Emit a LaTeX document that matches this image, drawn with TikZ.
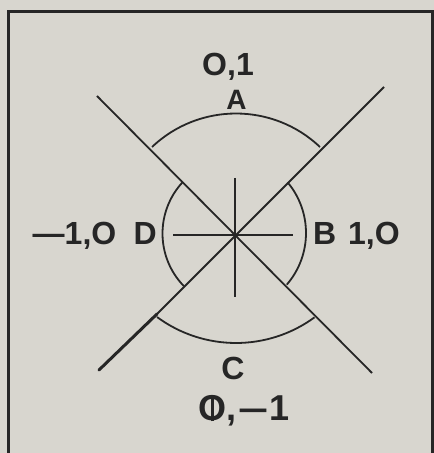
\documentclass[tikz,border=0pt]{standalone}
\usepackage{fontspec}
\setmainfont{Liberation Sans}
\definecolor{inkc}{HTML}{262626}
\definecolor{bgc}{HTML}{D8D6CF}
\newcommand{\barO}{\ooalign{O\cr\hfil\rule[-0.01em]{0.08em}{0.73em}\hfil}}
\begin{document}
\begin{tikzpicture}[x=1pt,y=1pt,
  ink/.style={draw=inkc, line width=1.8pt},
  lbl/.style={text=inkc, font=\bfseries\fontsize{32}{32}\selectfont, inner sep=0pt, anchor=base},
  small/.style={font=\bfseries\fontsize{28}{28}\selectfont},
  big/.style={font=\bfseries\fontsize{36}{36}\selectfont}]
\useasboundingbox (0,0) rectangle (434,453);
\fill[bgc] (0,0) rectangle (434,453);
% frame
\coordinate (fbl) at (8.5,-5);
\coordinate (ftl) at (8.5,441.5);
\coordinate (ftr) at (432,441.5);
\coordinate (fbr) at (432,-5);
\draw[draw=inkc, line width=3pt] (fbl) -- (ftl) -- (ftr) -- (fbr);
% diagonals
\coordinate (d1a) at (97,357);
\coordinate (d1b) at (372,80);
\coordinate (d2a) at (384,366);
\coordinate (d2m) at (157,139);
\coordinate (d2b) at (99,83);
\draw[ink] (d1a) -- (d1b);
\draw[ink] (d2a) -- (d2m);
\draw[draw=inkc, line width=3pt, line cap=round] (d2m) -- (d2b);
% cross
\coordinate (hl) at (173,218);
\coordinate (hr) at (293,218);
\coordinate (vt) at (235,275);
\coordinate (vb) at (235,156);
\draw[ink] (hl) -- (hr);
\draw[ink] (vt) -- (vb);
% arcs
\coordinate (ca) at (236,217.5);
\coordinate (cc) at (236,243);
\coordinate (cd) at (238,219.5);
\coordinate (cb) at (227,220);
\draw[ink] ([shift={(133.5:122pt)}]ca) arc[start angle=133.5, end angle=46.5, radius=122pt];
\draw[ink] ([shift={(-126.4:133pt)}]cc) arc[start angle=-126.4, end angle=-53.8, radius=133pt];
\draw[ink] ([shift={(137.4:75.5pt)}]cd) arc[start angle=137.4, end angle=224.2, radius=75.5pt];
\draw[ink] ([shift={(39.9:79pt)}]cb) arc[start angle=39.9, end angle=-40.8, radius=79pt];
% labels
\node[lbl] (top) at (228,377) {O,1};
\node[lbl, small] (A) at (236.5,343) {A};
\node[lbl, anchor=base east] (left) at (116.5,208) {—1,O};
\node[lbl, anchor=base east] (D) at (157,208) {D};
\node[lbl, anchor=base west] (B) at (313,208) {B};
\node[lbl, anchor=base west] (right) at (348,208) {1,O};
\node[lbl] (C) at (233,73) {C};
\node[lbl, big] (bot) at (244,32) {\barO,\kern2pt\scalebox{1.5}[1]{–}\kern1pt 1};
\end{tikzpicture}
\end{document}
